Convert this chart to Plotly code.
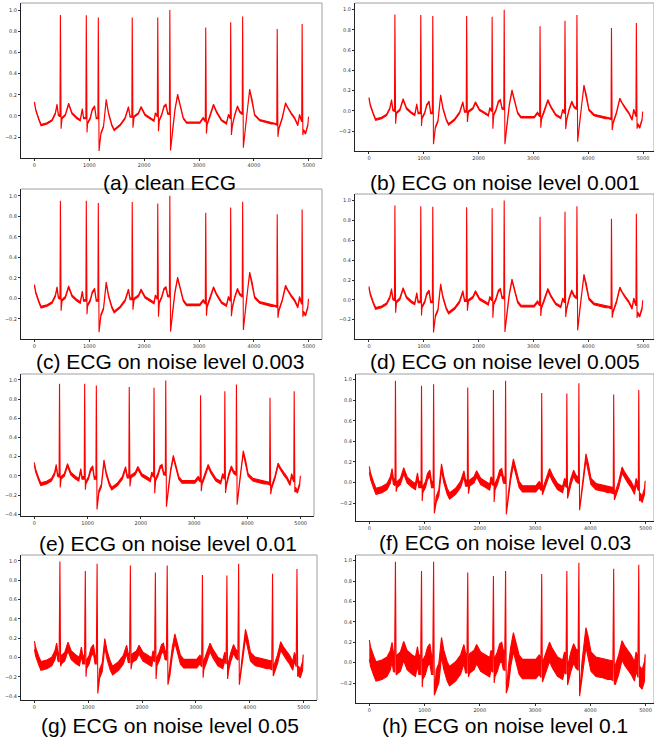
import plotly.graph_objects as go

# ---------------- data ----------------
# wandering baseline / P / T wave knots (samples, mV-like units)
BASE_X = [0, 24, 79, 121, 230, 321, 381, 412, 436,
          502, 563, 623, 684, 775, 835, 872, 896,
          968, 1017, 1053, 1096, 1126,
          1211, 1259, 1307, 1350, 1410, 1453, 1562, 1652, 1713, 1743,
          1816, 1895, 1943, 2016, 2106, 2179, 2203,
          2276, 2318, 2361, 2397, 2427,
          2518, 2560, 2609, 2651, 2712, 2772, 2893, 3014, 3075,
          3148, 3196, 3263, 3317, 3408, 3499, 3535,
          3608, 3650, 3699, 3741,
          3850, 3886, 3922, 3965, 4013, 4104, 4225, 4316, 4376,
          4455, 4515, 4576, 4619, 4679, 4740, 4800, 4830,
          4903, 4939, 4982, 4994]
BASE_Y = [0.127, 0.057, -0.03, -0.086, -0.07, -0.04, 0.025, 0.105, 0.01,
          -0.02, 0.01, 0.114, 0.025, -0.02, -0.04, 0.063, -0.02,
          -0.07, -0.02, 0.057, 0.09, -0.02,
          -0.165, -0.1, 0.152, 0.025, -0.086, -0.133, -0.086, -0.02, 0.083, -0.006,
          -0.006, 0.025, 0.083, 0.01, -0.02, -0.045, 0.025,
          -0.04, 0.01, 0.09, 0.105, 0.025,
          -0.133, 0.057, 0.2, 0.12, -0.02, -0.063, -0.063, -0.063, -0.02,
          -0.076, -0.006, 0.105, 0.04, -0.04, -0.07, 0.01,
          -0.086, 0.01, 0.09, 0.04,
          -0.086, 0.09, 0.248, 0.152, 0.01, -0.04, -0.054, -0.07, -0.07,
          -0.117, -0.02, 0.12, 0.073, 0.025, -0.02, -0.086, 0.01,
          -0.133, -0.165, -0.086, -0.013]

# R-peak sample positions and the level at the foot of each spike
R_X = [473, 945, 1164, 1782, 2247, 2467, 3121, 3576, 3794, 4424, 4878]
R_FOOT = [0.0, -0.02, -0.02, -0.006, 0.0, 0.02, -0.05, -0.02, 0.02, -0.08, -0.05]

# R-peak heights per panel
R_AMP_A = [0.953, 0.95, 0.93, 0.93, 0.93, 1.0, 0.836, 0.884, 0.94, 0.82, 0.868]
R_AMP_B = [0.953, 0.947, 0.937, 0.937, 0.93, 1.0, 0.837, 0.89, 0.947, 0.82, 0.87]
R_AMP_C = [0.953, 0.953, 0.93, 0.94, 0.926, 1.0, 0.836, 0.886, 0.943, 0.82, 0.866]
R_AMP_D = [0.95, 0.943, 0.937, 0.933, 0.923, 1.0, 0.837, 0.887, 0.943, 0.817, 0.867]
R_AMP_E = [0.96, 0.96, 0.94, 0.925, 0.918, 0.993, 0.84, 0.88, 0.952, 0.812, 0.88]
R_AMP_F = [0.99, 0.94, 0.955, 0.923, 0.9, 0.99, 0.87, 0.865, 0.965, 0.855, 0.9]
R_AMP_G = [0.993, 0.897, 0.97, 0.952, 0.88, 0.952, 0.855, 0.848, 0.97, 0.866, 0.917]
R_AMP_H = [0.99, 0.9, 0.99, 0.885, 0.85, 0.9, 0.87, 0.9, 0.98, 0.92, 0.96]

# S-wave minima per panel
S_DIP_A = [-0.12, -0.156, -0.33, -0.11, -0.144, -0.325, -0.166, -0.18, -0.30, -0.197, -0.18]
S_DIP_B = [-0.126, -0.15, -0.33, -0.11, -0.176, -0.33, -0.166, -0.18, -0.305, -0.19, -0.176]
S_DIP_C = [-0.12, -0.155, -0.33, -0.11, -0.18, -0.324, -0.17, -0.175, -0.308, -0.19, -0.18]
S_DIP_D = [-0.13, -0.157, -0.328, -0.11, -0.18, -0.323, -0.163, -0.173, -0.307, -0.18, -0.183]
S_DIP_E = [-0.12, -0.144, -0.35, -0.11, -0.18, -0.32, -0.16, -0.178, -0.30, -0.19, -0.17]
S_DIP_F = [-0.09, -0.18, -0.30, -0.11, -0.19, -0.31, -0.12, -0.155, -0.27, -0.17, -0.18]
S_DIP_G = [-0.09, -0.197, -0.37, -0.12, -0.22, -0.28, -0.207, -0.22, -0.28, -0.19, -0.197]
S_DIP_H = [-0.12, -0.24, -0.32, -0.14, -0.2, -0.30, -0.19, -0.22, -0.33, -0.21, -0.23]

# visible half-thickness of the noisy trace per panel
NOISE_BAND = [0.006, 0.007, 0.008, 0.009, 0.014, 0.03, 0.045, 0.095]

CAPTIONS = ["(a) clean ECG", "(b) ECG on noise level 0.001",
            "(c) ECG on noise level 0.003", "(d) ECG on noise level 0.005",
            "(e) ECG on noise level 0.01", "(f) ECG on noise level 0.03",
            "(g) ECG on noise level 0.05", "(h) ECG on noise level 0.1"]

X_TICKS = [0, 1000, 2000, 3000, 4000, 5000]
Y_TICKS = [-0.4, -0.2, 0.0, 0.2, 0.4, 0.6, 0.8, 1.0]

R_AMPS = [R_AMP_A, R_AMP_B, R_AMP_C, R_AMP_D, R_AMP_E, R_AMP_F, R_AMP_G, R_AMP_H]
S_DIPS = [S_DIP_A, S_DIP_B, S_DIP_C, S_DIP_D, S_DIP_E, S_DIP_F, S_DIP_G, S_DIP_H]

# ---------------- layout (pixel boxes: left, right, top, bottom) ----------------
W, H = 654, 740
FRAMES = [(21, 322, 3, 158), (355, 654, 3, 151),
          (21, 322, 189, 339), (355, 654, 194, 339),
          (21, 314, 374, 516), (356, 654, 374, 521),
          (21, 317, 555, 700), (356, 654, 555, 703)]
XRANGES = [(-245, 5240), (-255, 5200), (-245, 5240), (-255, 5200),
           (-250, 5250), (-241, 5154), (-250, 5250), (-241, 5154)]
CAPTION_POS = [(170, 182), (505, 182), (170, 361), (505, 361),
               (168, 543), (505, 542), (170, 725), (505, 725)]

fig = go.Figure()
shapes = []
annotations = []

for i in range(8):
    amps, dips, band = R_AMPS[i], S_DIPS[i], NOISE_BAND[i]
    pts = [(x, y, band) for x, y in zip(BASE_X, BASE_Y)]
    foot_off = 8 if band < 0.04 else 14
    for rx, foot, a, d in zip(R_X, R_FOOT, amps, dips):
        pts.append((rx - foot_off, foot, band))
        pts.append((rx, a, 0.0))
        pts.append((rx + 13, d, 0.0))
    pts.sort(key=lambda p: p[0])
    xs = [p[0] for p in pts]
    up = [p[1] + p[2] for p in pts]
    lo = [p[1] - p[2] for p in pts]

    ax = "" if i == 0 else str(i + 1)
    fig.add_trace(go.Scatter(
        x=xs + xs[::-1], y=up + lo[::-1], mode="lines",
        fill="toself", fillcolor="#ff0000",
        line=dict(color="#ff0000", width=1.1),
        hoverinfo="skip", showlegend=False,
        xaxis="x" + ax, yaxis="y" + ax))

    ymin, ymax = min(lo), max(up)
    pad = 0.05 * (ymax - ymin)
    L, R, T, B = FRAMES[i]
    xd = [L / W, R / W]
    yd = [1 - B / H, 1 - T / H]
    common = dict(showgrid=False, zeroline=False, showline=True,
                  linecolor="#222", linewidth=0.9, ticks="outside",
                  ticklen=2, tickwidth=0.6, tickcolor="#333",
                  tickfont=dict(family="DejaVu Sans", size=5, color="#333"))
    fig.layout["xaxis" + ax] = dict(domain=xd, range=list(XRANGES[i]),
                                    tickvals=X_TICKS,
                                    anchor="y" + ax, **common)
    fig.layout["yaxis" + ax] = dict(domain=yd, range=[ymin - pad, ymax + pad],
                                    tickvals=Y_TICKS, tickformat=".1f",
                                    anchor="x" + ax, **common)
    # top and right frame edges (light grey)
    shapes.append(dict(type="line", xref="paper", yref="paper",
                       x0=xd[0], x1=xd[1], y0=yd[1], y1=yd[1],
                       line=dict(color="#a0a0a0", width=1)))
    shapes.append(dict(type="line", xref="paper", yref="paper",
                       x0=xd[1], x1=xd[1], y0=yd[0], y1=yd[1],
                       line=dict(color="#a0a0a0", width=1)))
    cx, cy = CAPTION_POS[i]
    annotations.append(dict(text=CAPTIONS[i], xref="paper", yref="paper",
                            x=cx / W, y=1 - cy / H, xanchor="center",
                            yanchor="middle", showarrow=False,
                            font=dict(family="Liberation Sans, Arial", size=21,
                                      color="#000")))

fig.update_layout(width=W, height=H, margin=dict(l=0, r=0, t=0, b=0),
                  paper_bgcolor="white", plot_bgcolor="white",
                  shapes=shapes, annotations=annotations, showlegend=False)

fig.write_html("out.html",
               config={"displayModeBar": False},
               post_script="document.body.style.margin='0';"
                           "document.body.style.padding='0';"
                           "document.body.style.overflow='hidden';")
